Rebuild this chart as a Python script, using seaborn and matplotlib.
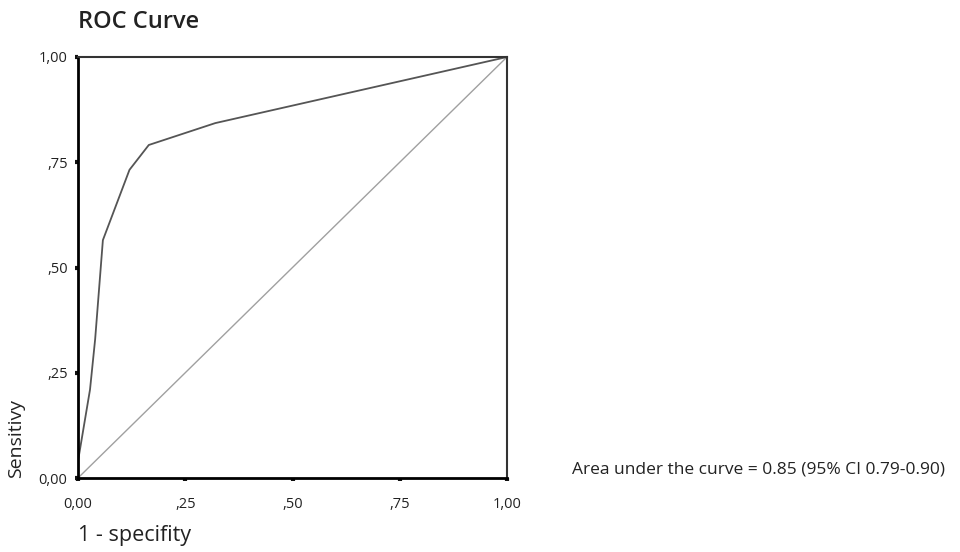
import matplotlib
matplotlib.use("Agg")
import matplotlib.pyplot as plt
import seaborn as sns
import pandas as pd

fpr = [0.0, 0.0, 0.028, 0.040, 0.058, 0.120, 0.165, 0.320, 1.0]
tpr = [0.0, 0.04, 0.21, 0.33, 0.565, 0.732, 0.791, 0.843, 1.0]
ref = [0.0, 1.0]
tick_vals = [0.0, 0.25, 0.5, 0.75, 1.0]
tick_labels = ["0,00", ",25", ",50", ",75", "1,00"]

sns.set_theme(style="white")
plt.rcParams['font.family'] = ['Open Sans', 'DejaVu Sans']

fig = plt.figure(figsize=(9.6, 5.52), dpi=100)
ax = fig.add_axes([78/960, 1-478/552, (507-78)/960, (478-57)/552])

df = pd.DataFrame({"fpr": fpr, "tpr": tpr})
sns.lineplot(x=ref, y=ref, ax=ax, color="#a0a0a0", linewidth=1.0, sort=False)
sns.lineplot(data=df, x="fpr", y="tpr", ax=ax, color="#555555", linewidth=1.3,
             sort=False, estimator=None)

ax.set_xlim(0, 1)
ax.set_ylim(0, 1)
ax.set_xticks(tick_vals)
ax.set_xticklabels(tick_labels)
ax.set_yticks(tick_vals)
ax.set_yticklabels(tick_labels)
ax.tick_params(axis="both", bottom=True, left=True, direction="out", length=2.5,
               width=3, color="#111111", labelsize=10.5, labelcolor="#222222", pad=5)
ax.tick_params(axis="x", pad=11)

for side in ["left", "bottom"]:
    ax.spines[side].set_color("#000000")
    ax.spines[side].set_linewidth(2.0)
for side in ["top", "right"]:
    ax.spines[side].set_color("#333333")
    ax.spines[side].set_linewidth(1.5)
ax.spines["top"].set_visible(True)
ax.spines["right"].set_visible(True)

ax.set_xlabel("")
ax.set_ylabel("")

fig.text(78/960, 1-22/552, "ROC Curve", fontsize=17, fontweight="semibold",
         color="#222222", ha="left", va="center")
fig.text(78/960, 1-536/552, "1 - specifity", fontsize=15.5, color="#222222",
         ha="left", va="center")
fig.text(16/960, 1-478/552, "Sensitivy", fontsize=14, color="#222222",
         ha="center", va="bottom", rotation=90)
fig.text(572/960, 1-469/552, "Area under the curve = 0.85 (95% CI 0.79-0.90)",
         fontsize=12.5, color="#222222", ha="left", va="center")

fig.savefig("out.png", dpi=100, facecolor="white")
